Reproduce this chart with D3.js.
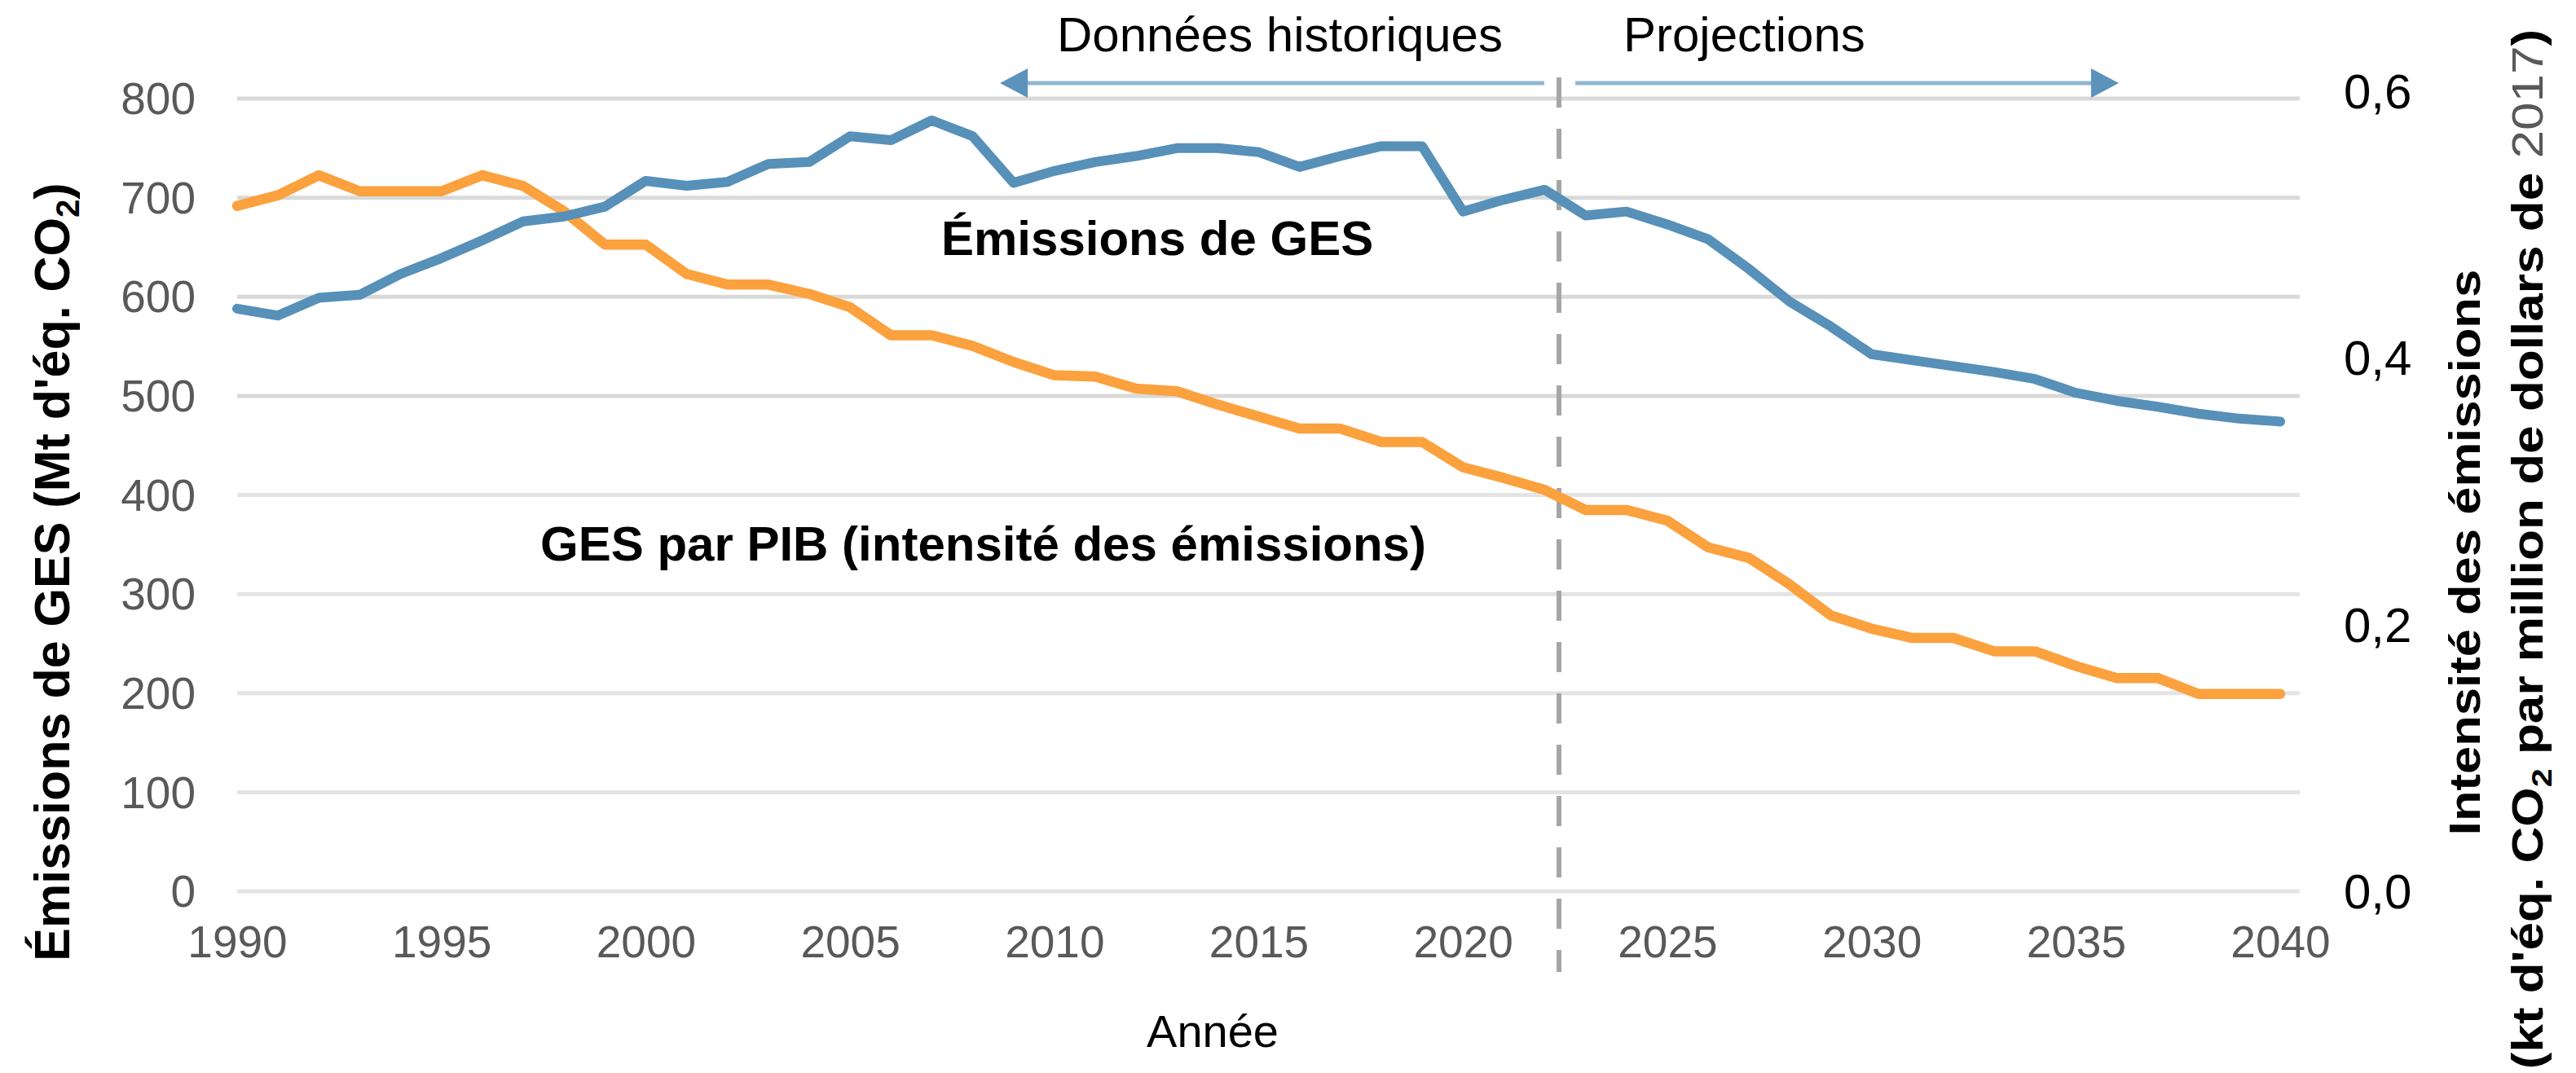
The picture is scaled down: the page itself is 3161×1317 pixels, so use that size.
<!DOCTYPE html>
<html lang="fr">
  <head>
    <meta charset="UTF-8" />
    <title>Émissions de GES et intensité des émissions</title>
    <script src="https://cdn.jsdelivr.net/npm/d3@7.6.1/dist/d3.min.js"></script>
    <style>
      body {
        margin: 0;
        background: #fff;
      }
      svg {
        display: block;
        font-family: 'Liberation Sans', Arial, sans-serif;
      }
    </style>
  </head>

  <body>
    <div id="box"></div>
    <script>
      // données
      const years = d3.range(1990, 2041);
      // Mt d'éq. CO2
      const emissions = [
        588, 581, 599, 602, 623, 639, 657, 676, 681, 691,
        717, 712, 716, 734, 736, 762, 758, 778, 762, 715,
        727, 736, 742, 750, 750, 746, 731, 742, 752, 752,
        686, 698, 708, 682, 686, 673, 658, 628, 595, 570,
        542, 536, 530, 524, 517, 503, 495, 489, 482, 477, 474
      ];
      // kt d'éq. CO2 par million de dollars de 2017
      const intensity = [
        0.514, 0.522, 0.537, 0.525, 0.525, 0.525, 0.537, 0.529, 0.510, 0.485,
        0.485, 0.463, 0.455, 0.455, 0.448, 0.438, 0.417, 0.417, 0.409, 0.397,
        0.387, 0.386, 0.377, 0.375, 0.365, 0.356, 0.347, 0.347, 0.337, 0.337,
        0.318, 0.310, 0.301, 0.286, 0.286, 0.278, 0.258, 0.250, 0.230, 0.207,
        0.197, 0.190, 0.190, 0.180, 0.180, 0.169, 0.160, 0.160, 0.148, 0.148, 0.148
      ];
      const leftTicks = [0, 100, 200, 300, 400, 500, 600, 700, 800];
      const rightTicks = [0, 0.2, 0.4, 0.6];
      const yearTicks = [1990, 1995, 2000, 2005, 2010, 2015, 2020, 2025, 2030, 2035, 2040];
      const splitYear = 2022.35; // début des projections

      const width = 3161;
      const height = 1317;

      const svg = d3.select('#box').append('svg').attr('width', width).attr('height', height);

      const x = d3.scaleLinear().domain([1990, 2040]).range([291, 2798]);
      const yLeft = d3.scaleLinear().domain([0, 800]).range([1094, 121]);
      const yRight = d3.scaleLinear().domain([0, 0.6]).range([1094, 112]);

      // grille
      svg.append('g')
        .selectAll('line')
        .data(leftTicks)
        .join('line')
        .attr('x1', x(1990))
        .attr('x2', x(2040) + 24)
        .attr('y1', d => yLeft(d))
        .attr('y2', d => yLeft(d))
        .attr('stroke', d => (d >= 500 ? '#d9d9d9' : '#e4e4e4'))
        .attr('stroke-width', 5);

      // axe gauche
      const leftAxis = svg.append('g')
        .attr('transform', 'translate(240,0)')
        .call(d3.axisLeft(yLeft).tickValues(leftTicks).tickSize(0).tickPadding(0));
      leftAxis.select('.domain').remove();
      leftAxis.selectAll('text')
        .attr('font-size', 55)
        .attr('font-family', "'Liberation Sans', Arial, sans-serif")
        .attr('fill', '#595959')
        .attr('dy', '0.34em');

      // axe droit
      const rightAxis = svg.append('g')
        .attr('transform', 'translate(2876,0)')
        .call(d3.axisRight(yRight).tickValues(rightTicks).tickSize(0).tickPadding(0)
          .tickFormat(d => d3.format('.1f')(d).replace('.', ',')));
      rightAxis.select('.domain').remove();
      rightAxis.selectAll('text')
        .attr('font-size', 60)
        .attr('font-family', "'Liberation Sans', Arial, sans-serif")
        .attr('fill', '#000')
        .attr('dy', '0.34em');

      // axe des x
      const xAxis = svg.append('g')
        .attr('transform', 'translate(0,1135)')
        .call(d3.axisBottom(x).tickValues(yearTicks).tickSize(0).tickPadding(0).tickFormat(d3.format('d')));
      xAxis.select('.domain').remove();
      xAxis.selectAll('text')
        .attr('font-size', 55)
        .attr('font-family', "'Liberation Sans', Arial, sans-serif")
        .attr('fill', '#595959')
        .attr('dy', '0.72em');

      svg.append('text')
        .attr('x', 1488)
        .attr('y', 1285)
        .attr('text-anchor', 'middle')
        .attr('font-size', 56)
        .text('Année');

      // ligne verticale pointillée
      svg.append('line')
        .attr('x1', x(splitYear))
        .attr('x2', x(splitYear))
        .attr('y1', 95)
        .attr('y2', 1193)
        .attr('stroke', '#a6a6a6')
        .attr('stroke-width', 6)
        .attr('stroke-dasharray', '37,26');

      // séries
      const lineEm = d3.line().x((d, i) => x(years[i])).y(d => yLeft(d));
      const lineInt = d3.line().x((d, i) => x(years[i])).y(d => yRight(d));

      svg.append('path')
        .datum(intensity)
        .attr('d', lineInt)
        .attr('fill', 'none')
        .attr('stroke', '#fba13e')
        .attr('stroke-width', 12.5)
        .attr('stroke-linejoin', 'round')
        .attr('stroke-linecap', 'round');

      svg.append('path')
        .datum(emissions)
        .attr('d', lineEm)
        .attr('fill', 'none')
        .attr('stroke', '#5790b8')
        .attr('stroke-width', 12)
        .attr('stroke-linejoin', 'round')
        .attr('stroke-linecap', 'round');

      // flèches historiques / projections
      const arrowY = 102;
      const arrows = [
        {from: 2021.99, to: 2008.67},
        {from: 2022.75, to: 2036.05}
      ];
      arrows.forEach(a => {
        const x0 = x(a.from);
        const x1 = x(a.to);
        const dir = x1 > x0 ? 1 : -1;
        svg.append('line')
          .attr('x1', x0)
          .attr('x2', x1 - dir * 20)
          .attr('y1', arrowY)
          .attr('y2', arrowY)
          .attr('stroke', '#8fb6d2')
          .attr('stroke-width', 5);
        svg.append('path')
          .attr('d', `M${x1},${arrowY} L${x1 - dir * 34},${arrowY - 18} L${x1 - dir * 34},${arrowY + 18} Z`)
          .attr('fill', '#5b93ba');
      });

      svg.append('text')
        .attr('x', 1844)
        .attr('y', 63)
        .attr('text-anchor', 'end')
        .attr('font-size', 60)
        .text('Données historiques');

      svg.append('text')
        .attr('x', 1992)
        .attr('y', 63)
        .attr('font-size', 60)
        .text('Projections');

      // étiquettes des séries
      svg.append('text')
        .attr('x', 1155)
        .attr('y', 313)
        .attr('font-size', 60)
        .attr('font-weight', 'bold')
        .text('Émissions de GES');

      svg.append('text')
        .attr('x', 663)
        .attr('y', 688)
        .attr('font-size', 60)
        .attr('font-weight', 'bold')
        .text('GES par PIB (intensité des émissions)');

      // titre gauche
      const leftTitle = svg.append('text')
        .attr('transform', 'translate(85,702) rotate(-90)')
        .attr('text-anchor', 'middle')
        .attr('font-size', 61)
        .attr('font-weight', 'bold');
      leftTitle.append('tspan').text("Émissions de GES (Mt d'éq. CO");
      leftTitle.append('tspan').attr('font-size', 40).attr('dy', 12).text('2');
      leftTitle.append('tspan').attr('dy', -12).text(')');

      // titre droit
      svg.append('text')
        .attr('transform', 'translate(3043,678) rotate(-90) scale(1.14,1)')
        .attr('text-anchor', 'middle')
        .attr('font-size', 54)
        .attr('font-weight', 'bold')
        .text('Intensité des émissions');

      const rightTitle = svg.append('text')
        .attr('transform', 'translate(3120,674) rotate(-90) scale(1.15,1)')
        .attr('text-anchor', 'middle')
        .attr('font-size', 54)
        .attr('font-weight', 'bold');
      rightTitle.append('tspan').text("(kt d'éq. CO");
      rightTitle.append('tspan').attr('font-size', 36).attr('dy', 11).text('2');
      rightTitle.append('tspan').attr('dy', -11).text(' par million de dollars de ');
      rightTitle.append('tspan').attr('font-weight', 'normal').attr('fill', '#595959').text('2017');
      rightTitle.append('tspan').text(')');
    </script>
  </body>
</html>
